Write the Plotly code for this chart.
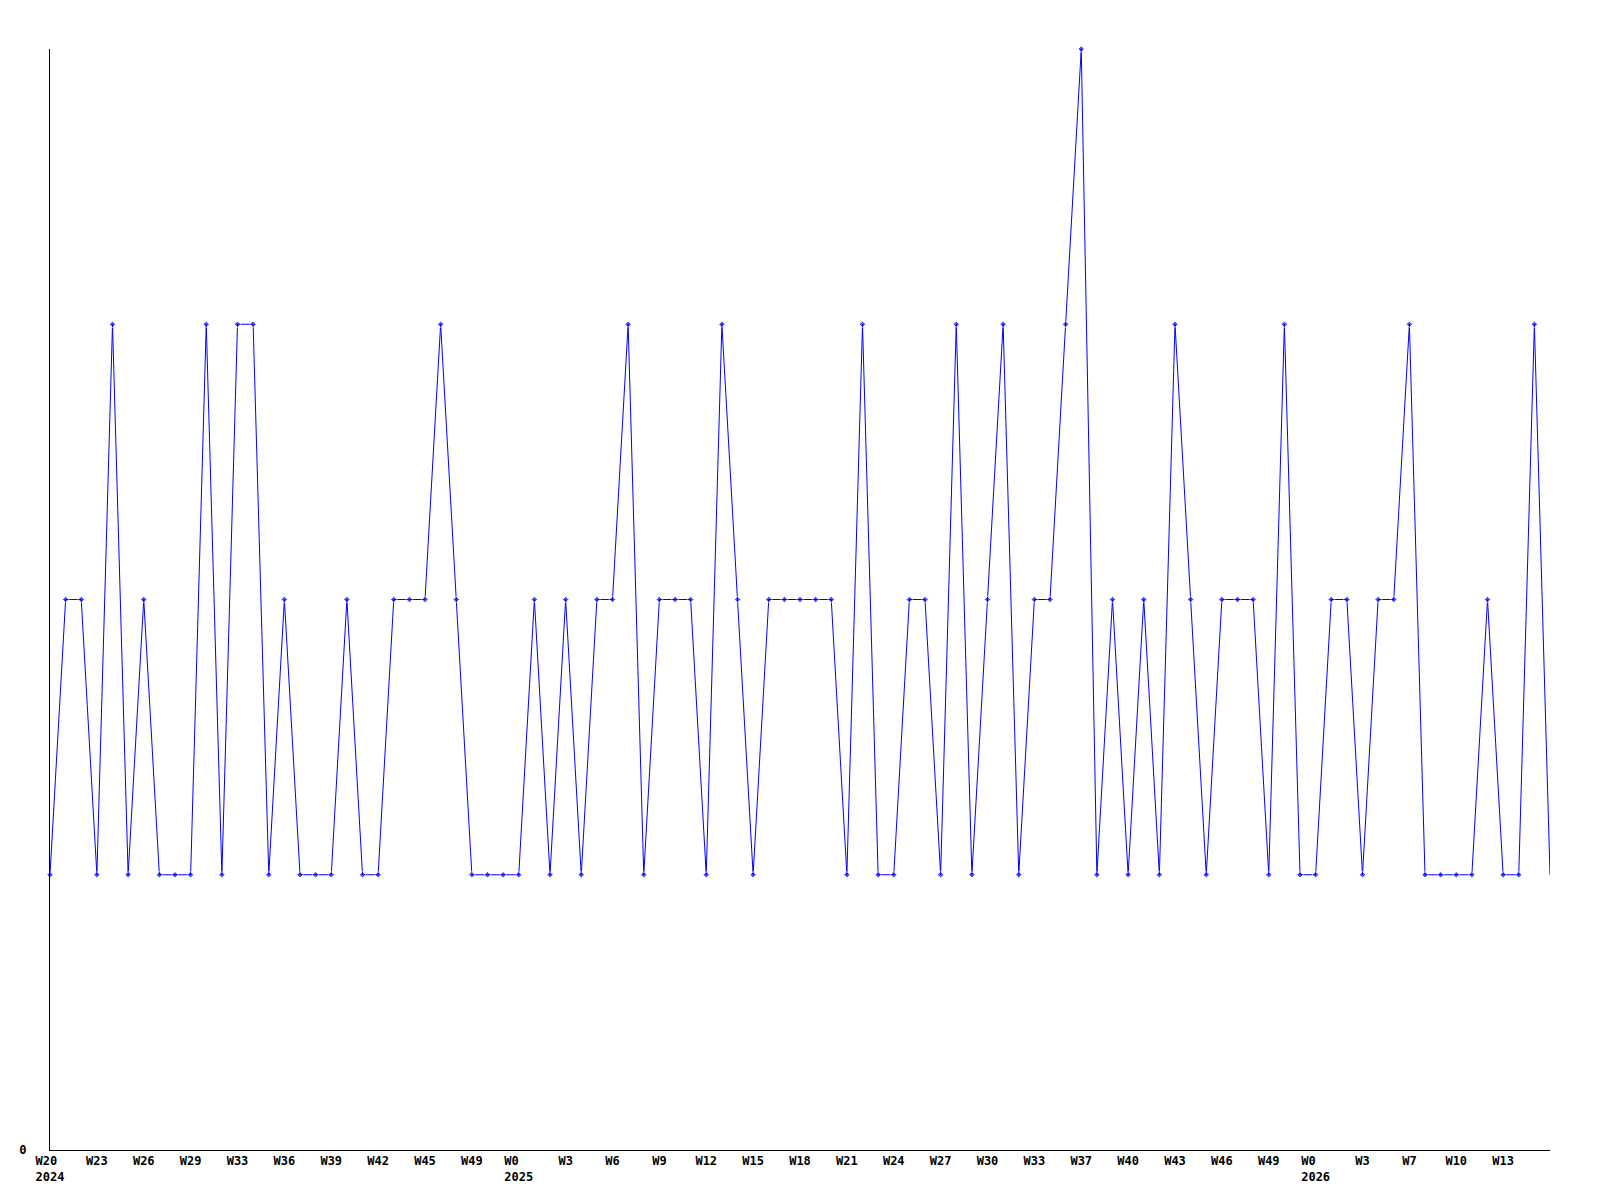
import plotly.graph_objects as go

# Weekly values (W20 2024 .. W14 2026)
values = [1, 2, 2, 1, 3, 1, 2, 1, 1, 1,
          3, 1, 3, 3, 1, 2, 1, 1, 1, 2,
          1, 1, 2, 2, 2, 3, 2, 1, 1, 1,
          1, 2, 1, 2, 1, 2, 2, 3, 1, 2,
          2, 2, 1, 3, 2, 1, 2, 2, 2, 2,
          2, 1, 3, 1, 1, 2, 2, 1, 3, 1,
          2, 3, 1, 2, 2, 3, 4, 1, 2, 1,
          2, 1, 3, 2, 1, 2, 2, 2, 1, 3,
          1, 1, 2, 2, 1, 2, 2, 3, 1, 1,
          1, 1, 2, 1, 1, 3, 1]

# Tick labels every 3 weeks
tick_labels = ["W20", "W23", "W26", "W29", "W33", "W36", "W39", "W42", "W45", "W49",
               "W0", "W3", "W6", "W9", "W12", "W15", "W18", "W21", "W24", "W27",
               "W30", "W33", "W37", "W40", "W43", "W46", "W49", "W0", "W3", "W7",
               "W10", "W13"]
year_labels = {0: "2024", 10: "2025", 27: "2026"}
tick_step = 3

x = list(range(len(values)))
tickvals = [i * tick_step for i in range(len(tick_labels))]
ticktext = []
for i, lab in enumerate(tick_labels):
    if i in year_labels:
        yr = year_labels[i]
        pad = max(0, len(yr) - len(lab))
        ticktext.append(lab + "\u00a0" * pad + "<br>" + yr)
    else:
        ticktext.append(lab)

marker_sizes = [5] * (len(values) - 1) + [0]

fig = go.Figure()
fig.add_trace(go.Scatter(
    x=x, y=values, mode="lines+markers",
    line=dict(color="#0000ff", width=1),
    marker=dict(symbol="diamond", size=marker_sizes, color="#0000ff"),
    showlegend=False, cliponaxis=False,
))

font = dict(family="DejaVu Sans Mono", size=12, color="black", weight="bold")

fig.update_layout(
    width=1600, height=1200,
    margin=dict(l=42, r=58, t=41, b=58),
    paper_bgcolor="white", plot_bgcolor="white",
    xaxis=dict(range=[0, len(values) - 1], showgrid=False, zeroline=False,
               showline=True, linecolor="black", linewidth=1, ticks="",
               tickvals=tickvals, ticktext=ticktext, tickangle=0,
               tickfont=font),
    yaxis=dict(range=[0, 4], showgrid=False, zeroline=False,
               showline=True, linecolor="black", linewidth=1, ticks="",
               tickvals=[0], ticktext=["0"], tickfont=font,
               ticklabelstandoff=20),
)

fig.write_html("out.html")
